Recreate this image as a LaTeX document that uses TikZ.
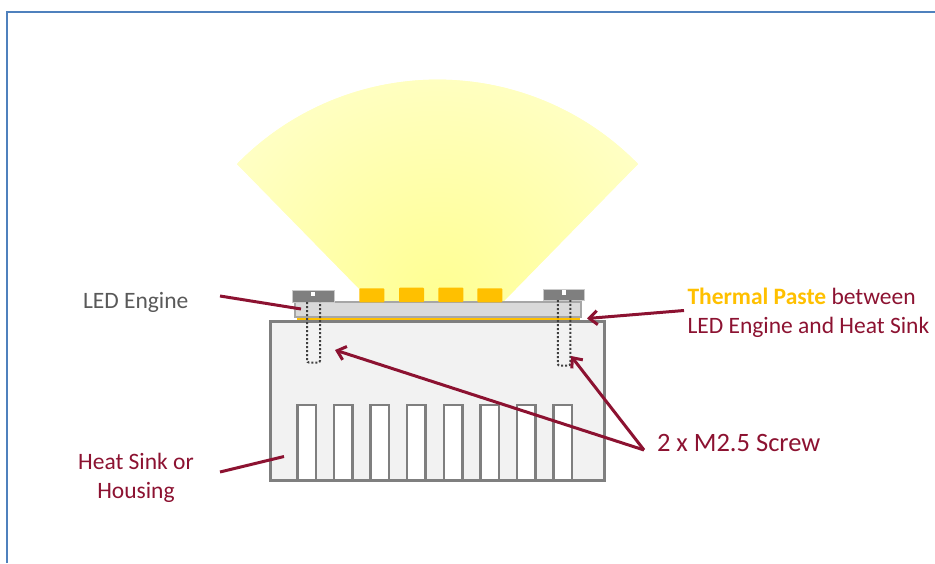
\documentclass[tikz,border=0pt]{standalone}
\usepackage{fontspec}
\setmainfont{Carlito}
\usetikzlibrary{arrows.meta}
\definecolor{frameblue}{HTML}{4F81BD}
\definecolor{wine}{HTML}{8C1231}
\definecolor{amberc}{HTML}{FFC000}
\definecolor{sinkgrey}{HTML}{7F7F7F}
\definecolor{sinkfill}{HTML}{F2F2F2}
\definecolor{boardfill}{HTML}{D9D9D9}
\definecolor{boardline}{HTML}{A6A6A6}
\definecolor{beamin}{HTML}{FFFF92}
\definecolor{beamout}{HTML}{FFFFC6}
\definecolor{labgrey}{HTML}{595959}
\pgfdeclareradialshading{beamshade}{\pgfpoint{0bp}{0bp}}{color(0bp)=(beamin); color(25bp)=(beamout); color(50bp)=(beamout)}
\tikzset{
  every node/.style={outer sep=0pt},
  lab/.style={font=\fontsize{23.5}{29}\selectfont, align=center, inner sep=0pt},
  pointer/.style={draw=wine, line width=3pt},
  pointerhead/.style={pointer, -{Straight Barb[length=8pt,width=14pt]}},
  slot/.style={draw=sinkgrey, line width=2.4pt, fill=white},
  led/.style={fill=amberc, rounded corners=0.8pt},
  screwhead/.style={fill=sinkgrey, draw=boardline!60, line width=0.5pt},
  shaft/.style={draw=black!75, line width=2pt, dash pattern=on 2pt off 2pt, rounded corners=2pt},
}
\begin{document}
\begin{tikzpicture}[x=1pt,y=-1pt]
\useasboundingbox (0,0) rectangle (935,563);
% frame
\draw[frameblue, line width=2.6pt] (7,563) -- (7,12) -- (935,12);
% beam
\begin{scope}
\clip (437.5,369) -- (237,164) arc[start angle=-135.65, end angle=-44.35, radius=280.4] -- cycle;
\fill[beamout] (200,60) rectangle (680,370);
\shade[shading=beamshade] (437.5,300) circle[radius=250];
\end{scope}
% heat sink
\node[draw=sinkgrey, fill=sinkfill, line width=2.4pt, minimum width=334pt, minimum height=159pt, inner sep=0pt, anchor=north west] (sink) at (270.5,321.5) {};
\foreach \n/\x in {1/297.5,2/334,3/370.5,4/407,5/444,6/480.5,7/517,8/553.5}
  \node[slot, minimum width=18.5pt, minimum height=75pt, inner sep=0pt, anchor=north west] (slot\n) at (\x,405) {};
% paste and board
\fill[amberc] (297,316.5) rectangle (580,320);
\node[draw=boardline, fill=boardfill, line width=2pt, minimum width=286pt, minimum height=14.5pt, inner sep=0pt, anchor=north west] (board) at (295.3,302.3) {};
% LEDs
\node[led, minimum width=25pt, minimum height=14pt, inner sep=0pt, anchor=north west] (led1) at (359.3,288.3) {};
\node[led, minimum width=25pt, minimum height=14.5pt, inner sep=0pt, anchor=north west] (led2) at (399,287.7) {};
\node[led, minimum width=25pt, minimum height=14.5pt, inner sep=0pt, anchor=north west] (led3) at (438.3,287.7) {};
\node[led, minimum width=25pt, minimum height=14pt, inner sep=0pt, anchor=north west] (led4) at (477.3,288.3) {};
% screws
\node[screwhead, minimum width=41.5pt, minimum height=11.5pt, inner sep=0pt, anchor=north west] (headL) at (292.7,290.7) {};
\fill[white] (310.7,291.7) rectangle (315,296);
\node[screwhead, minimum width=41.5pt, minimum height=11.5pt, inner sep=0pt, anchor=north west] (headR) at (542.9,288.9) {};
\fill[white] (561.7,290) rectangle (566,294.6);
\draw[shaft] (307,302) -- (307,362.5) -- (320,362.5) -- (320,302);
\draw[shaft] (557.8,300) -- (557.8,365.7) -- (570.3,365.5) -- (570.3,300);
% labels
\node[lab, text=labgrey, anchor=west] (tled) at (83,302) {LED Engine};
\node[lab, text=wine] (tsink) at (136,477.5) {Heat Sink or\\Housing};
\node[lab, text=wine, font=\fontsize{26.5}{32}\selectfont, anchor=west] (tscrew) at (657,443) {2 x M2.5 Screw};
\node[lab, text=wine, align=left, anchor=west] (tpaste) at (687.5,312.5) {\textcolor{amberc}{\textbf{Thermal Paste}} between\\LED Engine and Heat Sink};
% connectors
\coordinate (pled) at (301,309);
\coordinate (psink) at (284,456.5);
\coordinate (ppaste) at (587,318.5);
\coordinate (pscrewL) at (335,350);
\coordinate (pscrewR) at (571,356);
\coordinate (sled) at (220,296);
\coordinate (ssink) at (220,472);
\coordinate (spaste) at (684,310.5);
\coordinate (sscrew) at (644,450);
\draw[pointer] (sled) -- (pled);
\draw[pointer] (ssink) -- (psink);
\draw[pointerhead] (spaste) -- (ppaste);
\draw[pointerhead] (sscrew) -- (pscrewL);
\draw[pointerhead] (sscrew) -- (pscrewR);
\end{tikzpicture}
\end{document}
